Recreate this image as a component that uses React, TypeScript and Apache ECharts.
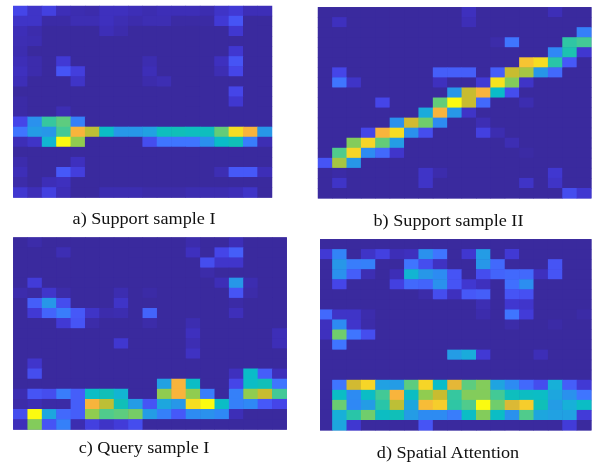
import React, { useEffect, useRef } from "react";
import * as echarts from "echarts";

const parula = [
  "#3a2a9e", "#3c2cac", "#3e30be", "#4139d4", "#4545e8", "#4658f8", "#3f75ff", "#2f88f5", "#2797e8", "#1fa4e0",
  "#17b0d8", "#0abcc8", "#10bfb8", "#2fc6a4", "#50cb8c", "#70cd6c", "#90cc50", "#c8bc30", "#f8b43c", "#f5dd22", "#fbfb10",
];

const captions = ["a) Support sample I", "b) Support sample II", "c) Query sample I", "d) Spatial Attention"];

const supportI = [
  [20,12,18,8,6,5,10,10,8,6,8,8,8,6,12,15,8,8],
  [12,12,3,3,7,7,10,7,5,7,7,2,2,2,15,24],
  [8,5,0,0,0,0,8,5,0,0,0,0,0,0,0,14],
  [7,6],
  [6,0,0,0,0,0,0,0,0,0,0,0,0,0,0,14],
  [8,5,0,15,0,0,0,0,0,6,0,0,0,0,10,24],
  [10,5,0,24,17,0,0,0,0,8,0,0,0,0,7,20],
  [8,0,0,0,12,0,0,0,0,5,7],
  [0,0,0,0,0,0,0,0,0,0,0,0,0,0,0,20],
  [3,0,0,0,0,0,0,0,0,0,0,0,0,0,0,14],
  [3,0,0,7],
  [20,38,66,72,33],
  [30,42,40,68,90,84,56,40,40,44,58,60,58,58,73,95,90,40],
  [8,12,52,100,80,0,0,0,0,22,30,30,30,38,55,60,32,7],
  [],
  [5,0,0,0,10],
  [8,0,0,25,17,0,0,0,0,0,0,0,0,0,7,25,25,8],
  [4,0,8,10],
  [14,8,18,8,0,0,6,6,6,4,4,4,6,6,6,8,12,0],
];

const supportII = [
  [0,0,0,0,0,0,0,0,0,0,10,0,0,0,0,0,8],
  [0,10,0,0,0,0,0,0,0,0,8],
  [0,0,0,0,0,0,0,0,0,0,0,0,0,0,0,0,0,0,33],
  [0,0,0,0,0,0,0,0,0,0,0,0,4,30,0,0,0,65,68],
  [0,0,0,0,0,0,0,0,0,0,0,0,0,0,0,0,35,62,14],
  [0,0,0,0,0,0,0,0,0,0,0,0,0,0,92,95,64,25],
  [0,20,0,0,0,0,0,0,26,26,26,0,26,85,82,40,28],
  [0,30,12,0,0,0,0,0,10,0,0,15,96,78,12],
  [0,0,0,0,0,0,0,0,0,40,85,90,55,22],
  [0,0,0,0,20,0,0,0,73,100,85,28,0,0,6],
  [0,0,0,0,0,0,0,48,90,40,12],
  [0,0,0,0,0,38,86,75,36,0,0,7],
  [0,0,0,20,90,95,38,22,0,0,0,18,6],
  [0,0,78,94,73,42,0,0,0,0,0,0,0,7],
  [0,70,94,36,28,13,0,0,0,0,0,0,0,0,2],
  [24,82,40],
  [0,3,0,0,0,0,0,12,5,0,0,0,0,0,0,0,14],
  [0,12,0,0,0,0,0,12,0,0,0,0,0,0,12,0,12],
  [0,0,0,0,0,0,0,0,0,0,0,0,0,0,0,0,0,22,14],
];

const queryI = [
  [0,4,0,0,0,0,0,0,0,0,0,0,5,0,0,8],
  [0,0,0,7,0,0,0,0,0,0,0,0,10,0,20,26],
  [0,0,0,0,0,0,0,0,0,0,0,0,0,22,13,13],
  [0,0,0,0,0,0,0,0,0,0,0,0,0,4],
  [0,16,0,0,0,0,0,0,0,0,0,0,0,0,8,40,6],
  [5,2,13,4,0,0,0,6,0,3,0,0,0,0,0,24,4],
  [0,26,40,22,0,0,0,12,0,0,0,0,0,0,0,3],
  [0,15,27,32,25,12,5,6,0,27,0,0,0,0,0,9],
  [0,0,0,15,24,4,0,0,0,4,0,0,6],
  [0,0,0,0,0,0,0,0,0,0,0,0,10,0,0,0,0,0,8],
  [0,0,0,0,0,0,0,14,0,0,0,0,7,0,0,0,0,0,8],
  [0,0,0,0,0,0,0,0,0,0,0,0,11],
  [0,13],
  [0,22,0,0,0,0,0,0,0,0,0,0,0,0,0,10,55,26,9],
  [0,0,0,0,0,0,0,0,0,0,44,90,56,0,0,20,56,60,30],
  [6,24,22,32,26,56,60,52,0,0,80,90,80,32,0,33,80,85,68],
  [4,7,3,3,26,90,84,60,42,24,46,40,95,100,56,33,35,25,20],
  [22,100,46,28,26,80,70,72,76,42,33,25,36,38,35,8],
  [9,78,24,33,6,18,12,16,22],
];

const spatialAttention = [
  [],
  [15,34,0,12,18,8,10,38,30,0,14,42,0,15],
  [0,40,32,33,0,0,30,22,11,0,0,40,28,0,0,0,24],
  [0,38,26,7,0,8,52,40,36,24,0,22,27,28,28,10,24],
  [0,20,0,0,0,18,28,27,38,24,14,10,0,29,37],
  [0,0,0,0,0,0,0,4,22,10,25,26,0,24,23],
  [0,0,0,0,0,0,0,0,0,0,0,7,0,14,13],
  [28,12,12,5,0,0,0,0,0,0,0,5,0,30,16,0,0,0,3],
  [10,36,13,4,0,0,0,0,0,0,0,0,0,4,0,0,3],
  [10,75,30,22],
  [0,30],
  [0,0,0,0,0,0,0,0,0,42,48,15,0,0,0,8],
  [],
  [],
  [0,30,86,94,44,42,72,94,55,88,72,78,45,36,28,22,50,26,15],
  [0,56,36,56,68,90,57,80,85,66,78,78,68,58,57,56,46,38,30],
  [0,74,35,42,64,84,46,91,93,65,70,100,75,87,93,60,42,50,56],
  [0,50,64,75,57,60,42,36,36,32,56,78,56,38,70,46,44,44,16],
  [0,46,14,0,0,0,0,24,0,0,0,0,0,0,0,0,0,16],
];

const panels = [
  { rows: supportI, cols: 18, left: 13.3, top: 6, width: 258.7, height: 191.5, cx: 144, cy: 218 },
  { rows: supportII, cols: 19, left: 318, top: 7.3, width: 273.3, height: 191, cx: 448.5, cy: 220 },
  { rows: queryI, cols: 19, left: 13.3, top: 237.5, width: 273.4, height: 192, cx: 144, cy: 447 },
  { rows: spatialAttention, cols: 19, left: 318, top: 239.3, width: 273.3, height: 191, cx: 448, cy: 452 },
];

export default function App() {
  const ref = useRef<HTMLDivElement>(null);
  useEffect(() => {
    const chart = echarts.init(ref.current!, null, { renderer: "svg", width: 593, height: 464 });
    const idx = (n: number) => Array.from({ length: n }, (_, i) => String(i));
    chart.setOption({
      animation: false,
      backgroundColor: "#ffffff",
      grid: panels.map((p) => ({
        left: p.left,
        top: p.top,
        width: p.width,
        height: p.height,
        show: true,
        backgroundColor: parula[0],
        borderWidth: 0,
      })),
      xAxis: panels.map((p, i) => ({ type: "category", gridIndex: i, data: idx(p.cols), show: false })),
      yAxis: panels.map((p, i) => ({ type: "category", gridIndex: i, data: idx(19), inverse: true, show: false })),
      visualMap: {
        show: false,
        min: 0,
        max: 100,
        dimension: 2,
        seriesIndex: [0, 1, 2, 3],
        inRange: { color: parula },
      },
      series: panels.map((p, i) => {
        const data: number[][] = [];
        for (let r = 0; r < 19; r++) {
          for (let c = 0; c < p.cols; c++) data.push([c, r, p.rows[r][c] ?? 0]);
        }
        return {
          type: "heatmap",
          xAxisIndex: i,
          yAxisIndex: i,
          data,
          itemStyle: { borderWidth: 0 },
          emphasis: { disabled: true },
        };
      }),
      graphic: [
        { type: "rect", z: 100, shape: { x: 317, y: 238, width: 3, height: 194 }, style: { fill: "#ffffff" } },
        ...panels.map((p, i) => ({
          type: "text",
          z: 100,
          x: p.cx,
          y: p.cy,
          scaleX: 1.07,
          style: {
            text: captions[i],
            fill: "#111111",
            font: "17px 'Liberation Serif'",
            textAlign: "center",
            textVerticalAlign: "middle",
          },
        })),
      ],
    });
    return () => chart.dispose();
  }, []);
  return (
    <div
      ref={ref}
      style={{ position: "fixed", left: 0, top: 0, width: 593, height: 464, filter: "blur(0.45px)" }}
    />
  );
}
